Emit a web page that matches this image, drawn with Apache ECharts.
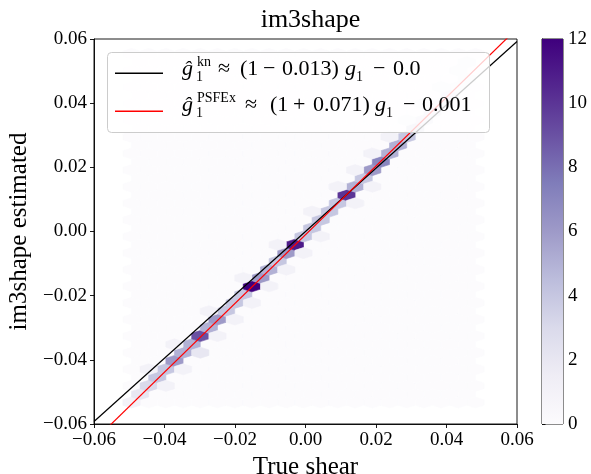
<!DOCTYPE html>
<html>
<head>
<meta charset="utf-8">
<script src="https://cdn.jsdelivr.net/npm/echarts@6/dist/echarts.min.js"></script>
<style>
  html, body { margin: 0; padding: 0; background: #fff; }
  #chart { width: 591px; height: 474px; }
</style>
</head>
<body>
<div id="chart"></div>
<script>
// Occupied hexagonal bins: centre in true shear, centre in estimated shear, count
const binTrue = [
  -0.04937, -0.04693, -0.04449, -0.04205, -0.03961, -0.03717, -0.03473, -0.03229,
  -0.02985, -0.02741, -0.02497, -0.02253, -0.02009, -0.01765, -0.01521, -0.01277,
  -0.01033, -0.00789, -0.00545, -0.00301, -0.00057, 0.00187, 0.00431, 0.00675,
  0.00919, 0.01163, 0.01407, 0.01651, 0.01895, 0.02139, 0.02383, 0.02627,
  0.02871, 0.03115, 0.03359, 0.03603, 0.03847, 0.04091, 0.04335, 0.04579,
  -0.03961, -0.03473, -0.02985, -0.02497, -0.02009, -0.01033, -0.00057, 0.00919,
  0.01407, 0.01895, 0.02871, 0.03359, 0.03847, 0.04335, 0.04579,
  -0.04449, -0.03717, -0.02741, -0.01765, -0.00789, 0.00187, 0.01407, 0.02383,
  -0.01521, -0.00545, 0.00431, 0.01895
];
const binEst = [
  -0.05330, -0.05071, -0.04812, -0.04553, -0.04295, -0.04036, -0.03777, -0.03519,
  -0.03260, -0.03001, -0.02743, -0.02484, -0.02225, -0.01966, -0.01708, -0.01449,
  -0.01190, -0.00932, -0.00673, -0.00414, -0.00156, 0.00103, 0.00362, 0.00621,
  0.00879, 0.01138, 0.01397, 0.01655, 0.01914, 0.02173, 0.02432, 0.02690,
  0.02949, 0.03208, 0.03466, 0.03725, 0.03984, 0.04242, 0.04501, 0.04760,
  -0.04812, -0.04295, -0.03777, -0.03260, -0.02743, -0.01708, -0.00673, 0.01397,
  0.00879, 0.02432, 0.03466, 0.03984, 0.04501, 0.05019, 0.05277,
  -0.04295, -0.03519, -0.02484, -0.01449, -0.00414, 0.00621, 0.01914, 0.02949,
  -0.02225, -0.01190, -0.00156, 0.01397
];
const binCount = [
  1, 2, 3, 4, 4, 6, 5, 5,
  9, 5, 6, 4, 4, 4, 12, 6,
  5, 4, 6, 11, 4, 4, 4, 4,
  4, 10, 5, 4, 6, 7, 5, 5,
  4, 3, 2, 2, 1, 2, 1, 1,
  1, 1, 2, 1, 1, 1, 1, 1,
  1, 1, 1, 1, 1, 1, 1,
  1, 1, 1, 1, 1, 1, 1, 1,
  1, 1, 1, 1
];

// Hexagon lattice: one bin centre, half bin width / half row pitch, index ranges
const latticeOrigin = [0.01163, 0.01138];
const latticeStep = [0.00244, 0.002587];
const latticeCols = [-25, 15];
const latticeRows = [-25, 17];

// Linear fits shown in the legend
const fitSlope = [1 - 0.013, 1 + 0.071];
const fitOffset = [-0.0, -0.001];
const fitColor = ['#000000', '#ff0000'];
const fitRange = [-0.06, 0.06];

// Axis ticks
const shearTicks = [-0.06, -0.04, -0.02, 0.0, 0.02, 0.04, 0.06];
const countTicks = [0, 2, 4, 6, 8, 10, 12];

// Purples colour map
const purples = ['#fcfbfd', '#efedf5', '#dadaeb', '#bcbddc', '#9e9ac8',
                 '#807dba', '#6a51a3', '#54278f', '#3f007d'];

const FONT = "'Liberation Serif', 'DejaVu Serif', serif";

// every lattice site, drawn as an empty bin underneath the occupied ones
const emptyBins = [];
for (let i = latticeCols[0]; i <= latticeCols[1]; i++) {
  for (let j = latticeRows[0]; j <= latticeRows[1]; j++) {
    if ((i - j) % 2 === 0) {
      emptyBins.push([latticeOrigin[0] + i * latticeStep[0],
                      latticeOrigin[1] + j * latticeStep[1], 0]);
    }
  }
}
const filledBins = binTrue.map((x, k) => [x, binEst[k], binCount[k]]);

function hexItem(params, api) {
  const x = api.value(0), y = api.value(1);
  const hx = latticeStep[0], hy = latticeStep[1];
  const pts = [
    [x + hx, y - hy / 3], [x + hx, y + hy / 3], [x, y + 2 * hy / 3],
    [x - hx, y + hy / 3], [x - hx, y - hy / 3], [x, y - 2 * hy / 3]
  ].map(p => api.coord(p));
  const c = api.visual('color');
  return { type: 'polygon', shape: { points: pts },
           style: { fill: c, stroke: c, lineWidth: 0.6 } };
}

function colorbarItem(params, api) {
  const p0 = api.coord([0, countTicks[0]]);
  const p1 = api.coord([1, countTicks[countTicks.length - 1]]);
  const stops = purples.map((c, k) => ({ offset: 1 - k / (purples.length - 1), color: c }))
                       .reverse();
  return {
    type: 'rect',
    shape: { x: p0[0], y: p1[1], width: p1[0] - p0[0], height: p0[1] - p1[1] },
    style: { fill: new echarts.graphic.LinearGradient(0, 0, 0, 1, stops) }
  };
}

function shearLabel(v) {
  if (Math.abs(v) < 1e-9) return '0.00';
  return (v < 0 ? '\u2212' : '') + Math.abs(v).toFixed(2);
}

const axisLineStyle = { color: '#000', width: 0.9 };

// legend text pieces placed by left edge and baseline
function tok(text, x, base, size, italic) {
  return {
    type: 'text', x: x, y: base - 0.34 * size, z: 101,
    style: { text: text, fill: '#000', align: 'left', verticalAlign: 'middle',
             font: (italic ? 'italic ' : '') + size + 'px ' + FONT }
  };
}
const B1 = 77, B2 = 113, MS = 22, SS = 14;
const legendPieces = [
  tok('\u011d', 182, B1, MS, true), tok('kn', 197, B1 - 10, SS, false), tok('1', 196, B1 + 5, SS, false),
  tok('\u2248', 218, B1, MS, false), tok('(1', 240, B1, MS, false), tok('\u2212', 263, B1, MS, false),
  tok('0.013)', 282, B1, MS, false), tok('g', 345, B1, MS, true), tok('1', 356, B1 + 5, SS, false),
  tok('\u2212', 373, B1, MS, false), tok('0.0', 393, B1, MS, false),

  tok('\u011d', 182, B2, MS, true), tok('PSFEx', 197, B2 - 10, SS, false), tok('1', 196, B2 + 5, SS, false),
  tok('\u2248', 245, B2, MS, false), tok('(1', 270, B2, MS, false), tok('+', 293, B2, MS, false),
  tok('0.071)', 313, B2, MS, false), tok('g', 375, B2, MS, true), tok('1', 386, B2 + 5, SS, false),
  tok('\u2212', 403, B2, MS, false), tok('0.001', 422, B2, MS, false)
];

const chart = echarts.init(document.getElementById('chart'), null, { renderer: 'canvas' });
chart.setOption({
  animation: false,
  backgroundColor: '#fff',
  title: {
    text: 'im3shape', left: 305.5, top: 2, textAlign: 'center',
    textStyle: { fontFamily: FONT, fontSize: 26, fontWeight: 'normal', color: '#000' }
  },
  grid: [
    { left: 94, top: 39, width: 423, height: 385, show: true, borderColor: '#000',
      borderWidth: 0.9, backgroundColor: 'transparent', containLabel: false, outerBoundsMode: 'none' },
    { left: 542, top: 39, width: 21, height: 385, show: true, borderColor: '#000',
      borderWidth: 0.9, backgroundColor: 'transparent', containLabel: false, outerBoundsMode: 'none' }
  ],
  xAxis: [
    {
      gridIndex: 0, type: 'value', min: shearTicks[0], max: shearTicks[shearTicks.length - 1],
      interval: 0.02,
      name: 'True shear', nameLocation: 'middle', nameGap: 23,
      nameTextStyle: { fontFamily: FONT, fontSize: 25, color: '#000' },
      axisLine: { show: true, onZero: false, lineStyle: axisLineStyle },
      axisTick: { show: true, length: 4, lineStyle: axisLineStyle },
      axisLabel: { fontFamily: FONT, fontSize: 19, color: '#000', margin: 7,
                   formatter: shearLabel, showMinLabel: true, showMaxLabel: true, hideOverlap: false },
      splitLine: { show: false }
    },
    { gridIndex: 1, type: 'value', min: 0, max: 1, show: false }
  ],
  yAxis: [
    {
      gridIndex: 0, type: 'value', min: shearTicks[0], max: shearTicks[shearTicks.length - 1],
      interval: 0.02,
      name: 'im3shape estimated', nameLocation: 'middle', nameGap: 52, nameRotate: 90,
      nameTextStyle: { fontFamily: FONT, fontSize: 25, color: '#000' },
      axisLine: { show: true, onZero: false, lineStyle: axisLineStyle },
      axisTick: { show: true, length: 4, lineStyle: axisLineStyle },
      axisLabel: { fontFamily: FONT, fontSize: 19, color: '#000', margin: 7,
                   formatter: shearLabel, showMinLabel: true, showMaxLabel: true, hideOverlap: false },
      splitLine: { show: false }
    },
    {
      gridIndex: 1, type: 'value', position: 'right',
      min: countTicks[0], max: countTicks[countTicks.length - 1], interval: 2,
      axisLine: { show: true, lineStyle: axisLineStyle },
      axisTick: { show: true, length: 3.5, lineStyle: axisLineStyle },
      axisLabel: { fontFamily: FONT, fontSize: 19, color: '#000', margin: 5,
                   showMinLabel: true, showMaxLabel: true },
      splitLine: { show: false }
    }
  ],
  visualMap: [{
    type: 'continuous', show: false, min: countTicks[0], max: countTicks[countTicks.length - 1],
    dimension: 2, seriesIndex: [0, 1], inRange: { color: purples }
  }],
  graphic: {
    elements: [
      {
        id: 'legendBox', type: 'rect', z: 100,
        shape: { x: 107.5, y: 52.5, width: 382, height: 80, r: 4 },
        style: { fill: 'rgba(255,255,255,0.8)', stroke: '#cccccc', lineWidth: 1 }
      },
      { id: 'legendKn', type: 'rect', z: 101, shape: { x: 115, y: 72.6, width: 48, height: 1.3 },
        style: { fill: fitColor[0] } },
      { id: 'legendPsfex', type: 'rect', z: 101, shape: { x: 115, y: 110.6, width: 48, height: 1.3 },
        style: { fill: fitColor[1] } }
    ].concat(legendPieces)
  },
  series: [
    { type: 'custom', name: 'empty', xAxisIndex: 0, yAxisIndex: 0, renderItem: hexItem,
      data: emptyBins, clip: true, silent: true, z: 1 },
    { type: 'custom', name: 'counts', xAxisIndex: 0, yAxisIndex: 0, renderItem: hexItem,
      data: filledBins, clip: true, silent: true, z: 2 },
    { type: 'line', name: 'kn', xAxisIndex: 0, yAxisIndex: 0, showSymbol: false, symbol: 'none',
      clip: true, silent: true, z: 3,
      data: fitRange.map(x => [x, fitSlope[0] * x + fitOffset[0]]),
      lineStyle: { color: fitColor[0], width: 1.2 } },
    { type: 'line', name: 'PSFEx', xAxisIndex: 0, yAxisIndex: 0, showSymbol: false, symbol: 'none',
      clip: true, silent: true, z: 4,
      data: fitRange.map(x => [x, fitSlope[1] * x + fitOffset[1]]),
      lineStyle: { color: fitColor[1], width: 1.2 } },
    { type: 'custom', name: 'colorbar', xAxisIndex: 1, yAxisIndex: 1, renderItem: colorbarItem,
      data: [[0, 0]], silent: true }
  ]
});
</script>
</body>
</html>
